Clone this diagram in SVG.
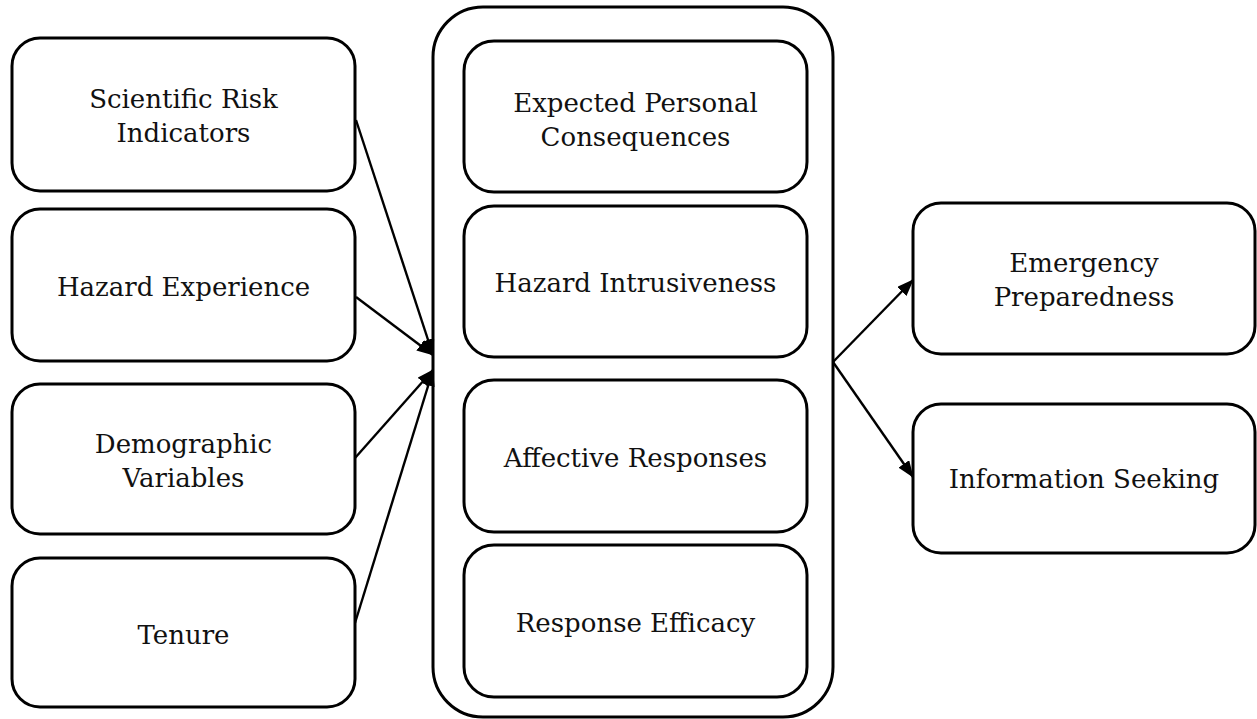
<svg xmlns="http://www.w3.org/2000/svg" width="1257" height="719" viewBox="0 0 1257 719">
<defs>
<marker id="ah" markerUnits="userSpaceOnUse" markerWidth="17" markerHeight="13" refX="16" refY="6.5" orient="auto">
<path d="M0,0 L17,6.5 L0,13 Z" fill="#000"/>
</marker>
<style>
.box{fill:#fff;stroke:#000;stroke-width:3}
.t{font-family:"DejaVu Serif","Liberation Serif",serif;font-size:26px;fill:#111;text-anchor:middle}
.c{stroke:#000;stroke-width:2.4;fill:none;marker-end:url(#ah)}
</style>
</defs>
<rect width="1257" height="719" fill="#fff"/>
<g id="container"><rect class="box" x="433" y="7" width="400" height="710" rx="50" stroke-width="3.2"/></g>
<g id="n-sci"><rect class="box" x="12" y="38" width="343" height="153" rx="28"/><text class="t" x="183.5" y="108">Scientific Risk</text><text class="t" x="183.5" y="142">Indicators</text></g>
<g id="n-haz"><rect class="box" x="12" y="209" width="343" height="152" rx="28"/><text class="t" x="183.5" y="296">Hazard Experience</text></g>
<g id="n-demo"><rect class="box" x="12" y="384" width="343" height="150" rx="28"/><text class="t" x="183.5" y="453">Demographic</text><text class="t" x="183.5" y="487">Variables</text></g>
<g id="n-ten"><rect class="box" x="12" y="558" width="343" height="149" rx="28"/><text class="t" x="183.5" y="644">Tenure</text></g>
<g id="n-epc"><rect class="box" x="464" y="41" width="343" height="151" rx="30"/><text class="t" x="635.5" y="112">Expected Personal</text><text class="t" x="635.5" y="146">Consequences</text></g>
<g id="n-hi"><rect class="box" x="464" y="206" width="343" height="151" rx="30"/><text class="t" x="635.5" y="292">Hazard Intrusiveness</text></g>
<g id="n-ar"><rect class="box" x="464" y="380" width="343" height="152" rx="30"/><text class="t" x="635.5" y="467">Affective Responses</text></g>
<g id="n-re"><rect class="box" x="464" y="545" width="343" height="152" rx="30"/><text class="t" x="635.5" y="632">Response Efficacy</text></g>
<g id="n-ep"><rect class="box" x="913" y="203" width="342" height="151" rx="28"/><text class="t" x="1084" y="272">Emergency</text><text class="t" x="1084" y="306">Preparedness</text></g>
<g id="n-is"><rect class="box" x="913" y="404" width="342" height="149" rx="28"/><text class="t" x="1084" y="488">Information Seeking</text></g>
<g id="connectors">
<line class="c" x1="356" y1="120" x2="433" y2="355"/>
<line class="c" x1="356" y1="297" x2="433" y2="355"/>
<line class="c" x1="355" y1="458" x2="433" y2="370"/>
<line class="c" x1="355" y1="623" x2="433" y2="370"/>
<line class="c" x1="833" y1="362" x2="913" y2="280"/>
<line class="c" x1="833" y1="362" x2="913" y2="477"/>
</g>
</svg>
